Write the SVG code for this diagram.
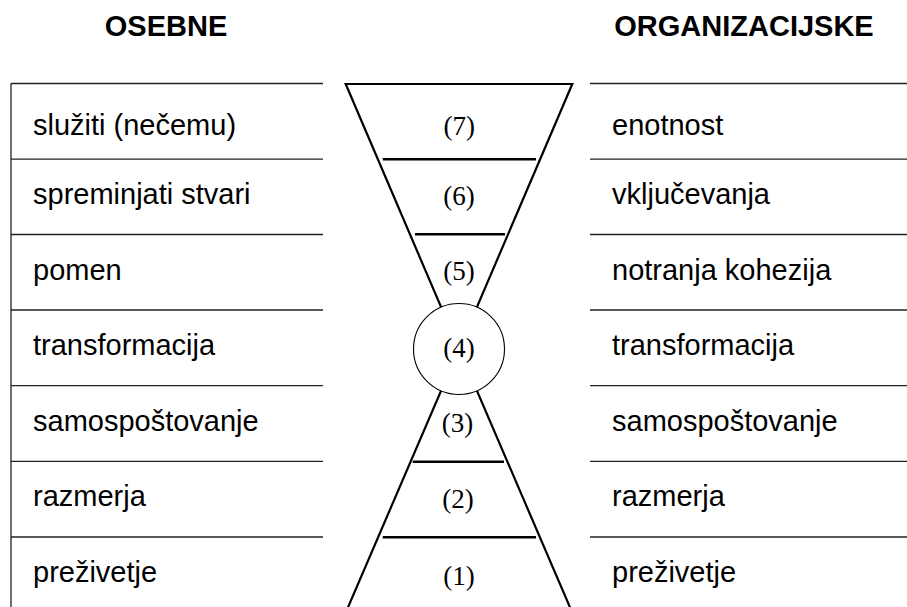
<svg xmlns="http://www.w3.org/2000/svg" width="907" height="607" viewBox="0 0 907 607">
<style>
.hd{font-family:"Liberation Sans",Arial,sans-serif;font-weight:bold;font-size:29px;fill:#000;text-anchor:middle}
.lb{font-family:"Liberation Sans",Arial,sans-serif;font-size:29px;fill:#000}
.num{font-family:"Liberation Serif","Times New Roman",serif;font-size:27px;fill:#000;text-anchor:middle}
.tl{stroke:#222;stroke-width:1.3;fill:none}
.hg{stroke:#000;stroke-width:2.2;fill:none;stroke-linejoin:miter}
.dv{stroke:#000;stroke-width:2.6}
</style>
<rect width="907" height="607" fill="#fff"/>
<g id="headings">
<text class="hd" x="166" y="36">OSEBNE</text>
<text class="hd" x="744" y="36">ORGANIZACIJSKE</text>
</g>
<g id="left-table">
<line class="tl" x1="11" y1="83.5" x2="11" y2="607"/>
<line class="tl" x1="11" y1="83.5" x2="323" y2="83.5"/>
<line class="tl" x1="11" y1="159.2" x2="323" y2="159.2"/>
<line class="tl" x1="11" y1="234.5" x2="323" y2="234.5"/>
<line class="tl" x1="11" y1="310" x2="323" y2="310"/>
<line class="tl" x1="11" y1="385.6" x2="323" y2="385.6"/>
<line class="tl" x1="11" y1="461.3" x2="323" y2="461.3"/>
<line class="tl" x1="11" y1="537" x2="323" y2="537"/>
<text class="lb" x="33" y="134.5">služiti (nečemu)</text>
<text class="lb" x="33" y="203.5">spreminjati stvari</text>
<text class="lb" x="33" y="279.5">pomen</text>
<text class="lb" x="33" y="355">transformacija</text>
<text class="lb" x="33" y="430.5">samospoštovanje</text>
<text class="lb" x="33" y="505.5">razmerja</text>
<text class="lb" x="33" y="582">preživetje</text>
</g>
<g id="right-table">
<line class="tl" x1="590" y1="83.5" x2="907" y2="83.5"/>
<line class="tl" x1="590" y1="159.2" x2="907" y2="159.2"/>
<line class="tl" x1="590" y1="234.5" x2="907" y2="234.5"/>
<line class="tl" x1="590" y1="310" x2="907" y2="310"/>
<line class="tl" x1="590" y1="385.6" x2="907" y2="385.6"/>
<line class="tl" x1="590" y1="461.3" x2="907" y2="461.3"/>
<line class="tl" x1="590" y1="537" x2="907" y2="537"/>
<text class="lb" x="612" y="134.5">enotnost</text>
<text class="lb" x="612" y="203.5">vključevanja</text>
<text class="lb" x="612" y="279.5">notranja kohezija</text>
<text class="lb" x="612" y="355">transformacija</text>
<text class="lb" x="612" y="430.5">samospoštovanje</text>
<text class="lb" x="612" y="505.5">razmerja</text>
<text class="lb" x="612" y="582">preživetje</text>
</g>
<g id="hourglass">
<polygon class="hg" points="345.7,84 572.3,84 459,349"/>
<polyline class="hg" points="346,612 459,349 572,612"/>
<line class="dv" x1="382.7" y1="159.3" x2="536" y2="159.3"/>
<line class="dv" x1="415" y1="234.3" x2="505" y2="234.3"/>
<line class="dv" x1="412.7" y1="461.7" x2="504" y2="461.7"/>
<line class="dv" x1="382.7" y1="537.3" x2="536" y2="537.3"/>
<circle cx="459" cy="349" r="45.5" fill="#fff" stroke="#000" stroke-width="1.1"/>
</g>
<g id="levels">
<text class="num" x="459.3" y="135">(7)</text>
<text class="num" x="459" y="205">(6)</text>
<text class="num" x="459" y="280">(5)</text>
<text class="num" x="459" y="356.5">(4)</text>
<text class="num" x="457.5" y="431.5">(3)</text>
<text class="num" x="458" y="508">(2)</text>
<text class="num" x="459" y="584.5">(1)</text>
</g>
</svg>
